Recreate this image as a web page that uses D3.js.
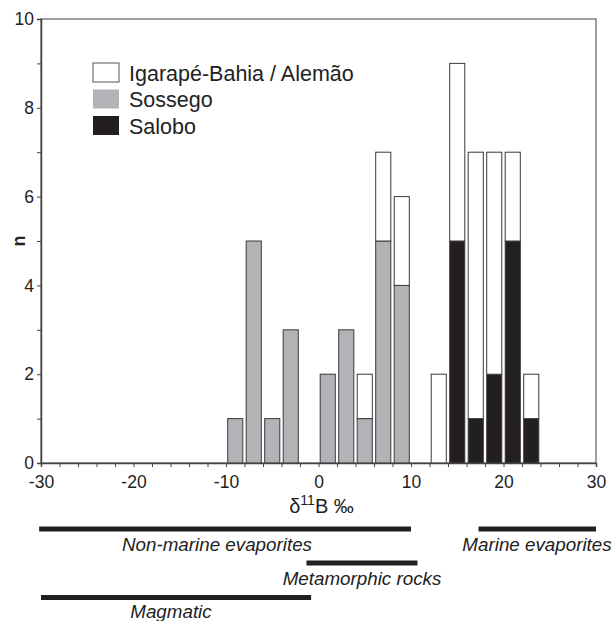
<!DOCTYPE html>
<html>
<head>
<meta charset="utf-8">
<script src="https://cdn.jsdelivr.net/npm/d3@7"></script>
<style>
  body { margin: 0; background: #fff; }
  svg { font-family: "Liberation Sans", Arial, sans-serif; }
</style>
</head>
<body>
<svg id="chart"></svg>
<script>
// bin start of each 2‰ bin
const binStarts = [-10, -8, -6, -4, 0, 2, 4, 6, 8, 12, 14, 16, 18, 20, 22];
const salobo    = [0, 0, 0, 0, 0, 0, 0, 0, 0, 0, 5, 1, 2, 5, 1];
const sossego   = [1, 5, 1, 3, 2, 3, 1, 5, 4, 0, 0, 0, 0, 0, 0];
const igarape   = [0, 0, 0, 0, 0, 0, 1, 2, 2, 2, 4, 6, 5, 2, 1];

const seriesNames = ["Igarapé-Bahia / Alemão", "Sossego", "Salobo"];
const xTickLabels = [-30, -20, -10, 0, 10, 20, 30];
const yTickLabels = [0, 2, 4, 6, 8, 10];

const ranges = [
  { name: "Non-marine evaporites", from: -30.2, to: 10 },
  { name: "Marine evaporites", from: 17.3, to: 30 },
  { name: "Metamorphic rocks", from: -1.3, to: 10.7 },
  { name: "Magmatic", from: -30, to: -0.8 }
];

const width = 613, height = 621;
const margin = { top: 19, right: 17, bottom: 158, left: 41 };
const colors = { "Salobo": "#231f20", "Sossego": "#b2b3b7", "Igarapé-Bahia / Alemão": "#ffffff" };

const svg = d3.select("#chart").attr("width", width).attr("height", height);

const x = d3.scaleLinear().domain([-30, 30]).range([margin.left, width - margin.right]);
const y = d3.scaleLinear().domain([0, 10]).range([height - margin.bottom, margin.top]);

// stacked layout: Salobo at bottom, then Sossego, then Igarapé
const rows = binStarts.map((b, i) => ({
  bin: b, "Salobo": salobo[i], "Sossego": sossego[i], "Igarapé-Bahia / Alemão": igarape[i]
}));
const stack = d3.stack().keys(["Salobo", "Sossego", "Igarapé-Bahia / Alemão"]);
const layers = stack(rows);

// frame
svg.append("rect")
  .attr("x", x(-30)).attr("y", y(10))
  .attr("width", x(30) - x(-30)).attr("height", y(0) - y(10))
  .attr("fill", "none").attr("stroke", "#808080").attr("stroke-width", 1.5);

const inset = 1.7;
svg.append("g").selectAll("g")
  .data(layers)
  .join("g")
  .attr("fill", d => colors[d.key])
  .selectAll("rect")
  .data(d => d.filter(s => s[1] > s[0]))
  .join("rect")
  .attr("x", d => x(d.data.bin) + inset)
  .attr("width", d => x(d.data.bin + 2) - x(d.data.bin) - 2 * inset)
  .attr("y", d => y(d[1]))
  .attr("height", d => y(d[0]) - y(d[1]))
  .attr("stroke", "#3a3a3a")
  .attr("stroke-width", 1);

// axes
const xAxis = svg.append("g")
  .attr("transform", `translate(0,${y(0)})`)
  .call(d3.axisBottom(x).tickValues(d3.range(-30, 31, 2)).tickSize(4)
    .tickFormat(d => xTickLabels.includes(d) ? d : ""));
xAxis.select(".domain").attr("stroke", "#444").attr("stroke-width", 1.5);
xAxis.selectAll(".tick line").attr("stroke", "#444");
xAxis.selectAll("text").attr("font-size", 17.5).attr("fill", "#222").attr("dy", "1em");

const yAxis = svg.append("g")
  .attr("transform", `translate(${x(-30)},0)`)
  .call(d3.axisLeft(y).tickValues(d3.range(0, 11, 1)).tickSize(4)
    .tickFormat(d => yTickLabels.includes(d) ? d : ""));
yAxis.select(".domain").attr("stroke", "#444").attr("stroke-width", 1.5);
yAxis.selectAll(".tick line").attr("stroke", "#444");
yAxis.selectAll("text").attr("font-size", 17.5).attr("fill", "#222").attr("x", -7);

// axis titles
svg.append("text")
  .attr("transform", `translate(25,${(y(0) + y(10)) / 2}) rotate(-90)`)
  .attr("text-anchor", "middle")
  .attr("font-size", 18).attr("font-weight", "bold").attr("fill", "#222")
  .text("n");

const xt = svg.append("text")
  .attr("x", x(0) + 3).attr("y", 513)
  .attr("text-anchor", "middle")
  .attr("font-size", 20).attr("fill", "#222");
xt.append("tspan").text("δ");
xt.append("tspan").attr("font-size", 14).attr("dy", -8).text("11");
xt.append("tspan").attr("dy", 8).text("B ‰");

// legend
const legend = svg.append("g").attr("transform", "translate(93,63)");
seriesNames.forEach((name, i) => {
  const g = legend.append("g").attr("transform", `translate(0,${i * 26.5})`);
  g.append("rect")
    .attr("width", 26).attr("height", 19)
    .attr("fill", colors[name])
    .attr("stroke", name === "Igarapé-Bahia / Alemão" ? "#555" : "none");
  g.append("text")
    .attr("x", 36).attr("y", 17.5)
    .attr("font-size", 21.5).attr("fill", "#222")
    .text(name);
});

// reference ranges below the axis
const rangeY = [529, 529, 563, 597.5];
ranges.forEach((r, i) => {
  svg.append("rect")
    .attr("x", x(r.from)).attr("y", rangeY[i] - 2.5)
    .attr("width", x(r.to) - x(r.from)).attr("height", 5)
    .attr("fill", "#231f20");
});
const labelPos = [
  { x: 217, y: 551 },
  { x: 537, y: 551 },
  { x: 362, y: 585 },
  { x: 171, y: 618 }
];
ranges.forEach((r, i) => {
  svg.append("text")
    .attr("x", labelPos[i].x).attr("y", labelPos[i].y)
    .attr("text-anchor", "middle")
    .attr("font-size", 18.8).attr("font-style", "italic").attr("fill", "#222")
    .text(r.name);
});
</script>
</body>
</html>
